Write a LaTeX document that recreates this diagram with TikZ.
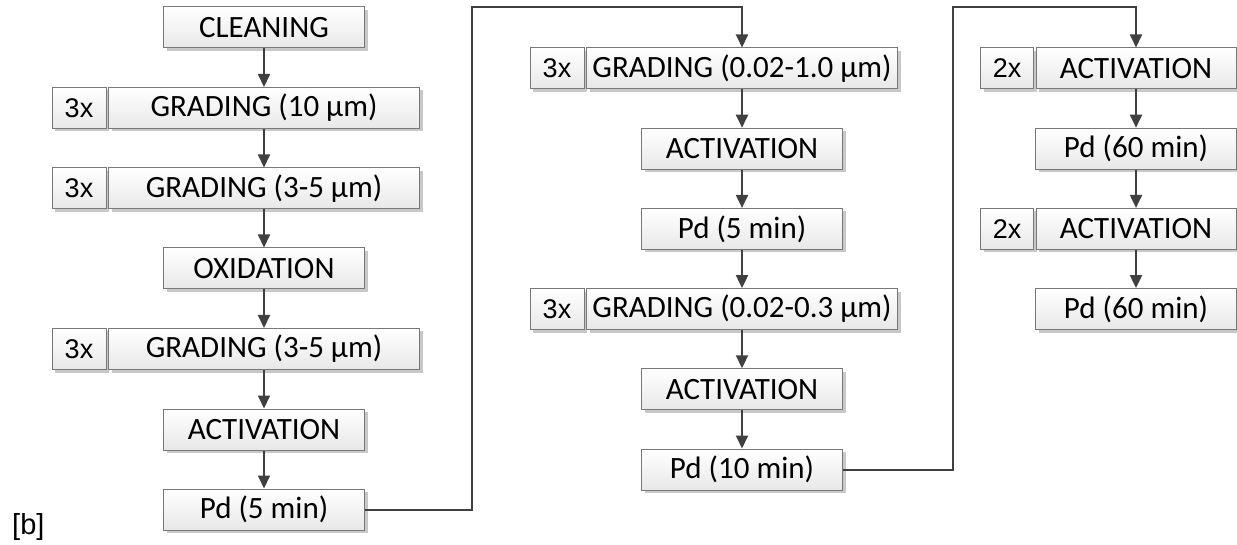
\documentclass[tikz,border=0pt]{standalone}
\usepackage{fontspec}
\setmainfont{Carlito}
\newfontfamily\arialfont{Liberation Sans}
\usetikzlibrary{arrows.meta,shadows}

\begin{document}
\begin{tikzpicture}[x=1pt,y=-1pt,
  stepbox/.style={draw=boxline,line width=1pt,top color=white,bottom color=boxfill,
    minimum height=41pt,inner sep=0pt,font=\fontsize{31}{35}\selectfont,
    drop shadow={shadow xshift=3pt,shadow yshift=-3pt,fill=boxshade,opacity=1}},
  plainbox/.style={stepbox,minimum width=201pt},
  widebox/.style={stepbox,minimum width=311pt},
  repbox/.style={stepbox,minimum width=54pt,font=\arialfont\fontsize{27}{31}\selectfont},
  flow/.style={draw=flowline,line width=2pt,-{Triangle[width=12pt,length=13pt]}}]
  \definecolor{boxline}{RGB}{120,120,120}
  \definecolor{boxfill}{RGB}{232,232,232}
  \definecolor{boxshade}{RGB}{200,200,200}
  \definecolor{flowline}{RGB}{64,64,64}

  \useasboundingbox (0,0) rectangle (1237,545);

  % ---- column 1 ----
  \node[plainbox] (clean) at (264,27.5) {CLEANING};
  \node[repbox] (rep1) at (79,108) {3x};
  \node[widebox] (grad1) at (264,108) {GRADING (10 µm)};
  \node[repbox] (rep2) at (79,188.5) {3x};
  \node[widebox] (grad2) at (264,188.5) {GRADING (3-5 µm)};
  \node[plainbox] (oxid) at (264,268.5) {OXIDATION};
  \node[repbox] (rep3) at (79,349) {3x};
  \node[widebox] (grad3) at (264,349) {GRADING (3-5 µm)};
  \node[plainbox] (act1) at (264,429.5) {ACTIVATION};
  \node[plainbox] (pd1) at (264,509.5) {Pd (5 min)};

  % ---- column 2 ----
  \node[repbox] (rep4) at (557,68.5) {3x};
  \node[widebox] (grad4) at (742,68.5) {GRADING (0.02-1.0 µm)};
  \node[plainbox] (act2) at (742,148.7) {ACTIVATION};
  \node[plainbox] (pd2) at (742,228.9) {Pd (5 min)};
  \node[repbox] (rep5) at (557,309.1) {3x};
  \node[widebox] (grad5) at (742,309.1) {GRADING (0.02-0.3 µm)};
  \node[plainbox] (act3) at (742,389.3) {ACTIVATION};
  \node[plainbox] (pd3) at (742,469.5) {Pd (10 min)};

  % ---- column 3 ----
  \node[repbox,minimum width=53pt] (rep6) at (1007,68.5) {2x};
  \node[plainbox,minimum width=200pt] (act4) at (1136,68.5) {ACTIVATION};
  \node[plainbox] (pd4) at (1136,148.7) {Pd (60 min)};
  \node[repbox,minimum width=53pt] (rep7) at (1007,228.9) {2x};
  \node[plainbox,minimum width=200pt] (act5) at (1136,228.9) {ACTIVATION};
  \node[plainbox] (pd5) at (1136,309.1) {Pd (60 min)};

  % ---- arrows ----
  \foreach \a/\b in {clean/grad1,grad1/grad2,grad2/oxid,oxid/grad3,grad3/act1,act1/pd1,
                     grad4/act2,act2/pd2,pd2/grad5,grad5/act3,act3/pd3,
                     act4/pd4,pd4/act5,act5/pd5} {
    \draw[flow] (\a) -- (\b);
  }
  % links between the columns
  \coordinate (turn1) at (472,7);
  \coordinate (turn2) at (953,7);
  \draw[flow] (pd1.east) -| (turn1) -| (grad4.north);
  \draw[flow] (pd3.east) -| (turn2) -| (act4.north);

  % panel tag
  \node[font=\arialfont\fontsize{29}{33}\selectfont,anchor=west,inner sep=0pt] (tag) at (12,527) {[b]};
\end{tikzpicture}
\end{document}
